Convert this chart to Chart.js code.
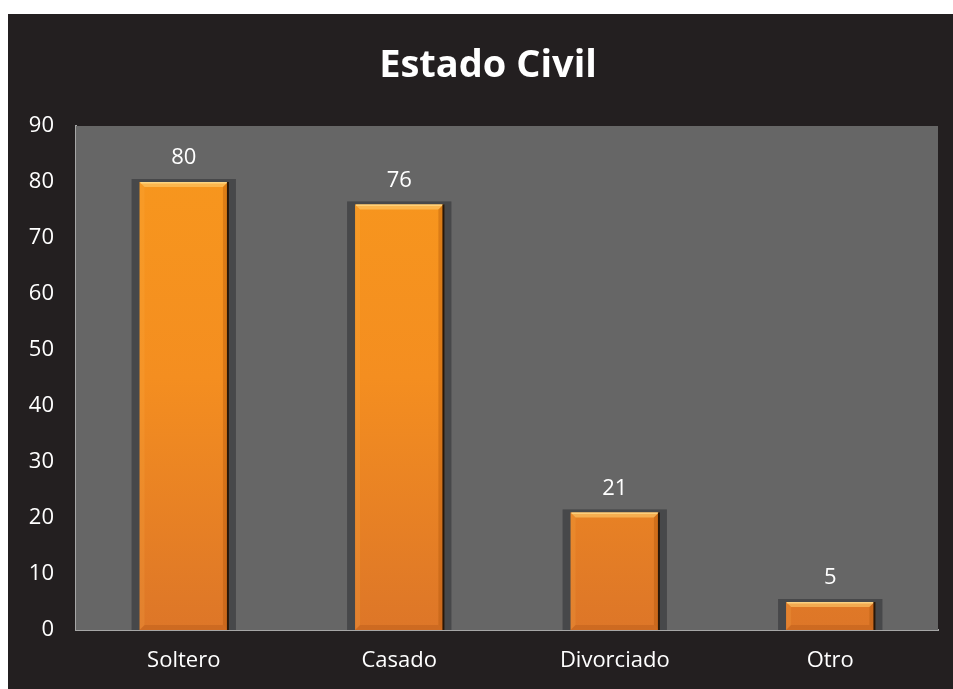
<!DOCTYPE html>
<html>
<head>
<meta charset="utf-8">
<script src="https://cdn.jsdelivr.net/npm/chart.js@4/dist/chart.umd.min.js"></script>
<style>
  html, body { margin: 0; padding: 0; background: #fff; }
  #wrap { position: absolute; left: 8px; top: 14px; width: 945px; height: 675px; background: #231f20; }
</style>
</head>
<body>
<div id="wrap"><canvas id="c" width="945" height="675"></canvas></div>
<script>
// Estado Civil — bar chart, orange bevelled bars on a gray plot area
const chartTitle = "Estado Civil";
const categories = ["Soltero", "Casado", "Divorciado", "Otro"];
const counts = [80, 76, 21, 5];
const yTicks = [0, 10, 20, 30, 40, 50, 60, 70, 80, 90];

const FONT = "'Open Sans', 'Noto Sans', sans-serif";

// title, gray plot background + dark "shadow" slab behind every bar
const backdrop = {
  id: "backdrop",
  beforeDatasetsDraw(chart) {
    const { ctx, chartArea: a } = chart;
    ctx.save();
    ctx.fillStyle = "#ffffff";
    ctx.font = `bold 38px ${FONT}`;
    ctx.textAlign = "center";
    ctx.textBaseline = "middle";
    ctx.fillText(chartTitle, 480, 52);

    ctx.fillStyle = "#666666";
    ctx.fillRect(a.left, a.top, a.right - a.left, a.bottom - a.top);
    chart.getDatasetMeta(0).data.forEach((bar) => {
      const half = bar.width / 2;
      ctx.fillStyle = "#47484a";
      ctx.fillRect(bar.x - half - 8, bar.y - 3, bar.width + 16, bar.base - bar.y + 3);
    });
    ctx.restore();
  },
  afterDatasetsDraw(chart) {
    const { ctx } = chart;
    ctx.save();
    chart.getDatasetMeta(0).data.forEach((bar, i) => {
      const l = bar.x - bar.width / 2, r = bar.x + bar.width / 2;
      const t = bar.y, b = bar.base;
      const bev = 5;
      // top bevel (light)
      ctx.fillStyle = "rgba(255, 205, 110, 0.6)";
      ctx.beginPath();
      ctx.moveTo(l, t); ctx.lineTo(r, t); ctx.lineTo(r - bev, t + bev); ctx.lineTo(l + bev, t + bev);
      ctx.closePath(); ctx.fill();
      ctx.fillStyle = "rgba(255, 225, 150, 0.7)";
      ctx.fillRect(l + 1, t, r - l - 2, 1.5);
      // right bevel (dark)
      ctx.fillStyle = "rgba(170, 80, 10, 0.35)";
      ctx.beginPath();
      ctx.moveTo(r, t); ctx.lineTo(r, b); ctx.lineTo(r - bev, b - bev); ctx.lineTo(r - bev, t + bev);
      ctx.closePath(); ctx.fill();
      // left bevel (light-ish)
      ctx.fillStyle = "rgba(255, 190, 90, 0.15)";
      ctx.beginPath();
      ctx.moveTo(l, t); ctx.lineTo(l + bev, t + bev); ctx.lineTo(l + bev, b - bev); ctx.lineTo(l, b);
      ctx.closePath(); ctx.fill();
      // bottom bevel
      ctx.fillStyle = "rgba(150, 65, 10, 0.22)";
      ctx.beginPath();
      ctx.moveTo(l, b); ctx.lineTo(l + bev, b - bev); ctx.lineTo(r - bev, b - bev); ctx.lineTo(r, b);
      ctx.closePath(); ctx.fill();
      // thin dark edge on right
      ctx.fillStyle = "#2a1808";
      ctx.fillRect(r - 1, t, 2, b - t);
      // value label
      ctx.fillStyle = "#ffffff";
      ctx.font = `22px ${FONT}`;
      ctx.textAlign = "center";
      ctx.textBaseline = "middle";
      ctx.fillText(String(counts[i]), bar.x, t - 24);
    });
    ctx.restore();
  },
};

const canvas = document.getElementById("c");
new Chart(canvas, {
  type: "bar",
  data: {
    labels: categories,
    datasets: [{
      data: counts,
      backgroundColor(c) {
        const a = c.chart.chartArea;
        if (!a) return "#f7941d";
        const g = c.chart.ctx.createLinearGradient(0, a.top, 0, a.bottom);
        g.addColorStop(0, "#f8981d");
        g.addColorStop(0.5, "#f48e20");
        g.addColorStop(1, "#dd7628");
        return g;
      },
      borderWidth: 0,
      categoryPercentage: 1,
      barPercentage: 0.41,
    }],
  },
  options: {
    responsive: false,
    animation: false,
    devicePixelRatio: 1,
    layout: { padding: { left: 0, right: 15, top: 112, bottom: 0 } },
    plugins: {
      legend: { display: false },
      tooltip: { enabled: false },
      title: { display: false },
    },
    scales: {
      x: {
        grid: { display: false, drawTicks: false },
        border: { display: true, color: "#a6a6a6", width: 2 },
        ticks: { color: "#ffffff", font: { family: FONT, size: 22 }, padding: 18 },
        afterFit(s) { s.height = 59; },
      },
      y: {
        min: 0,
        max: 90,
        afterBuildTicks(s) { s.ticks = yTicks.map((v) => ({ value: v })); },
        grid: { display: false, drawTicks: false },
        border: { display: true, color: "#a6a6a6", width: 2 },
        ticks: { color: "#ffffff", font: { family: FONT, size: 22 }, padding: 22 },
        afterFit(s) { s.width = 68; },
      },
    },
  },
  plugins: [backdrop],
});
</script>
</body>
</html>
